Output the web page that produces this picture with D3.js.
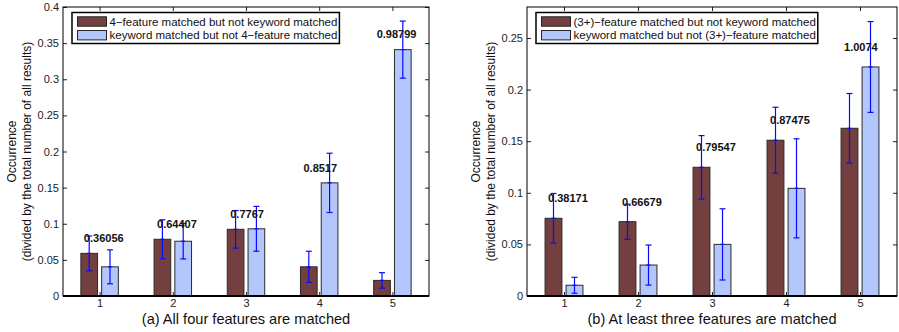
<!DOCTYPE html>
<html>
<head>
<meta charset="utf-8">
<script src="https://cdn.jsdelivr.net/npm/d3@7"></script>
<style>
  body { margin: 0; background: #fff; }
  svg { display: block; font-family: "Liberation Sans", Arial, sans-serif; }
</style>
</head>
<body>
<svg id="chart" width="899" height="332"></svg>
<script>
// groups on the x axis
const groups = [1, 2, 3, 4, 5];

// (a) all four features matched
const featureA = [0.059, 0.0785, 0.0923, 0.0404, 0.0216];
const featureErrA = [0.024, 0.027, 0.026, 0.0215, 0.0107];
const keywordA = [0.0404, 0.0758, 0.093, 0.1566, 0.341];
const keywordErrA = [0.0235, 0.0245, 0.031, 0.041, 0.0395];
const labelsA = ["0.36056", "0.64407", "0.7767", "0.8517", "0.98799"];
const yTicksA = [0, 0.05, 0.1, 0.15, 0.2, 0.25, 0.3, 0.35, 0.4];

// (b) at least three features matched
const featureB = [0.0753, 0.072, 0.1247, 0.1509, 0.1625];
const featureErrB = [0.024, 0.017, 0.0307, 0.032, 0.0337];
const keywordB = [0.0104, 0.030, 0.050, 0.1043, 0.2219];
const keywordErrB = [0.0077, 0.0194, 0.0345, 0.048, 0.044];
const labelsB = ["0.38171", "0.66679", "0.79547", "0.87475", "1.0074"];
const yTicksB = [0, 0.05, 0.1, 0.15, 0.2, 0.25];

const brown = "#733f3f";
const lightBlue = "#b3c7fc";
const errColor = "#0a0aff";

const svg = d3.select("#chart");

function drawPanel(opts) {
  const { left, right, top, bottom } = opts;
  const x = d3.scaleLinear().domain([0.5, 5.5]).range([left, right]);
  const y = d3.scaleLinear().domain([0, opts.yMax]).range([bottom, top]);
  const g = svg.append("g");

  const barW = x(0.228) - x(0);
  const offset = 0.142;

  const series = [
    { values: opts.feature, errs: opts.featureErr, color: brown, dx: -offset },
    { values: opts.keyword, errs: opts.keywordErr, color: lightBlue, dx: offset },
  ];

  // bars
  series.forEach((s) => {
    g.selectAll(null)
      .data(groups)
      .join("rect")
      .attr("x", (d, i) => x(d + s.dx) - barW / 2)
      .attr("y", (d, i) => y(s.values[i]))
      .attr("width", barW)
      .attr("height", (d, i) => y(0) - y(s.values[i]))
      .attr("fill", s.color)
      .attr("stroke", "#2a2a2a")
      .attr("stroke-width", 1);
  });

  // error bars
  series.forEach((s) => {
    const eb = g.selectAll(null)
      .data(groups)
      .join("g")
      .attr("stroke", errColor)
      .attr("stroke-width", 1.2);
    eb.append("line")
      .attr("x1", (d) => x(d + s.dx))
      .attr("x2", (d) => x(d + s.dx))
      .attr("y1", (d, i) => y(s.values[i] - s.errs[i]))
      .attr("y2", (d, i) => y(s.values[i] + s.errs[i]));
    [-1, 0, 1].forEach((k) => {
      eb.append("line")
        .attr("x1", (d) => x(d + s.dx) - (k === 0 ? 2 : 3))
        .attr("x2", (d) => x(d + s.dx) + (k === 0 ? 2 : 3))
        .attr("y1", (d, i) => y(s.values[i] + k * s.errs[i]))
        .attr("y2", (d, i) => y(s.values[i] + k * s.errs[i]));
    });
  });

  // axes, ticks pointing inward
  const fmt = (d) => String(+d.toFixed(2));
  g.append("g")
    .attr("transform", `translate(${left},0)`)
    .call(d3.axisLeft(y).tickValues(opts.yTicks).tickFormat(fmt).tickSize(-4).tickPadding(4))
    .call((a) => a.select(".domain").remove());
  g.append("g")
    .attr("transform", `translate(${right},0)`)
    .call(d3.axisRight(y).tickValues(opts.yTicks).tickFormat("").tickSize(-4))
    .call((a) => a.select(".domain").remove());
  g.append("g")
    .attr("transform", `translate(0,${bottom})`)
    .call(d3.axisBottom(x).tickValues(groups).tickFormat(d3.format("d")).tickSize(-4).tickPadding(3.5))
    .call((a) => a.select(".domain").remove());
  g.append("g")
    .attr("transform", `translate(0,${top})`)
    .call(d3.axisTop(x).tickValues(groups).tickFormat("").tickSize(-4))
    .call((a) => a.select(".domain").remove());

  g.selectAll(".tick text")
    .style("font-family", "Liberation Sans, Arial, sans-serif")
    .style("font-size", "11px")
    .attr("fill", "#222");
  g.selectAll(".tick line").attr("stroke", "#222");

  // axes box
  g.append("rect")
    .attr("x", left)
    .attr("y", top)
    .attr("width", right - left)
    .attr("height", bottom - top)
    .attr("fill", "none")
    .attr("stroke", "#000")
    .attr("stroke-width", 1);
  g.append("line")
    .attr("x1", left)
    .attr("x2", right)
    .attr("y1", bottom)
    .attr("y2", bottom)
    .attr("stroke", "#000")
    .attr("stroke-width", 1.8);

  // value labels above each group
  g.selectAll(null)
    .data(groups)
    .join("text")
    .attr("x", (d) => x(d - 0.215))
    .attr("y", (d, i) => y(Math.max(opts.feature[i], opts.keyword[i]) + 0.0155))
    .attr("font-size", "11px")
    .attr("font-weight", "bold")
    .attr("fill", "#111")
    .text((d, i) => opts.labels[i]);

  // legend
  const lg = g.append("g").attr("transform", `translate(${left + 9},12.5)`);
  const box = lg.append("rect")
    .attr("fill", "#fff")
    .attr("stroke", "#000")
    .attr("stroke-width", 1.5);
  let maxW = 0;
  opts.legend.forEach((name, i) => {
    const cy = 9 + i * 13.7;
    lg.append("rect")
      .attr("x", 5.5)
      .attr("y", cy - 4.7)
      .attr("width", 29)
      .attr("height", 9.4)
      .attr("fill", i === 0 ? brown : lightBlue)
      .attr("stroke", "#222");
    const t = lg.append("text")
      .attr("x", 37.5)
      .attr("y", cy + 4)
      .attr("font-size", "11.5px")
      .attr("fill", "#111")
      .text(name);
    maxW = Math.max(maxW, t.node().getComputedTextLength());
  });
  box.attr("width", 37.5 + maxW + 2).attr("height", 31);

  // y label
  const cy = (top + bottom) / 2;
  ["Occurrence", "(divided by the total number of all results)"].forEach((line, i) => {
    g.append("text")
      .attr("transform", `translate(${left - 47 + i * 15},${cy}) rotate(-90)`)
      .attr("text-anchor", "middle")
      .attr("font-size", "12px")
      .attr("fill", "#111")
      .text(line);
  });

  // caption
  g.append("text")
    .attr("x", (left + right) / 2)
    .attr("y", 323.5)
    .attr("text-anchor", "middle")
    .attr("font-size", "14.6px")
    .attr("fill", "#111")
    .text(opts.title);
}

drawPanel({
  left: 63, right: 429, top: 7, bottom: 296,
  yMax: 0.4, yTicks: yTicksA,
  feature: featureA, featureErr: featureErrA,
  keyword: keywordA, keywordErr: keywordErrA,
  labels: labelsA,
  legend: ["4\u2212feature matched but not keyword matched", "keyword matched but not 4\u2212feature matched"],
  title: "(a) All four features are matched",
});

drawPanel({
  left: 527, right: 897, top: 7, bottom: 296,
  yMax: 0.28, yTicks: yTicksB,
  feature: featureB, featureErr: featureErrB,
  keyword: keywordB, keywordErr: keywordErrB,
  labels: labelsB,
  legend: ["(3+)\u2212feature matched but not keyword matched", "keyword matched but not (3+)\u2212feature matched"],
  title: "(b) At least three features are matched",
});
</script>
</body>
</html>
